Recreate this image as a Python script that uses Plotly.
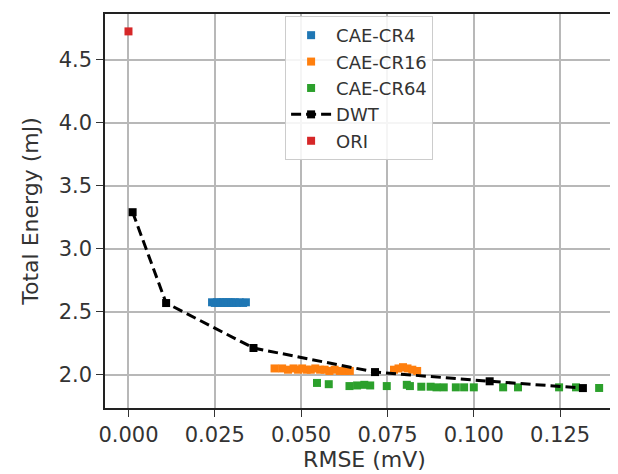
import plotly.graph_objects as go

# ---- data ----
cr4_rmse = [0.0242, 0.0250, 0.0256, 0.0261, 0.0266, 0.0270, 0.0274, 0.0278, 0.0282,
            0.0286, 0.0290, 0.0294, 0.0298, 0.0303, 0.0308, 0.0314, 0.0322, 0.0332, 0.0340]
cr4_energy = [2.575, 2.57, 2.575, 2.57, 2.575, 2.57, 2.575, 2.57, 2.575,
              2.57, 2.575, 2.57, 2.575, 2.57, 2.575, 2.57, 2.575, 2.57, 2.575]

cr16_rmse = [0.0423, 0.0445, 0.0462, 0.0478, 0.0491, 0.0503, 0.0516, 0.0528, 0.0541, 0.0555, 0.0568,
             0.0582, 0.0597, 0.0612, 0.0627, 0.0641, 0.0769, 0.0782, 0.0795, 0.0808, 0.0822, 0.0836]
cr16_energy = [2.05, 2.05, 2.04, 2.05, 2.04, 2.05, 2.04, 2.04, 2.05, 2.04, 2.04,
               2.03, 2.04, 2.03, 2.03, 2.03, 2.04, 2.05, 2.06, 2.05, 2.04, 2.03]

cr64_rmse = [0.0546, 0.0580, 0.0640, 0.0662, 0.0683, 0.0700, 0.0748, 0.0806, 0.0815, 0.0848,
             0.0875, 0.0892, 0.0913, 0.0948, 0.0972, 0.1000, 0.1085, 0.1128, 0.1247, 0.1296, 0.1363]
cr64_energy = [1.935, 1.925, 1.91, 1.915, 1.92, 1.915, 1.91, 1.92, 1.91, 1.905,
               1.905, 1.90, 1.90, 1.90, 1.90, 1.90, 1.90, 1.90, 1.90, 1.90, 1.895]

dwt_rmse = [0.0012, 0.0109, 0.0362, 0.0714, 0.1046, 0.1316]
dwt_energy = [3.29, 2.569, 2.212, 2.021, 1.948, 1.894]

ori_rmse = [0.0]
ori_energy = [4.725]

x_ticks = [0.000, 0.025, 0.050, 0.075, 0.100, 0.125]
x_ticklabels = ["0.000", "0.025", "0.050", "0.075", "0.100", "0.125"]
y_ticks = [2.0, 2.5, 3.0, 3.5, 4.0, 4.5]
y_ticklabels = ["2.0", "2.5", "3.0", "3.5", "4.0", "4.5"]

FONT = "DejaVu Sans"
TXT = "#333333"
MS = 8

fig = go.Figure()
fig.add_trace(go.Scatter(x=cr4_rmse, y=cr4_energy, mode="markers", name="CAE-CR4",
                         marker=dict(symbol="square", size=MS, color="#1f77b4")))
fig.add_trace(go.Scatter(x=cr16_rmse, y=cr16_energy, mode="markers", name="CAE-CR16",
                         marker=dict(symbol="square", size=MS, color="#ff7f0e")))
fig.add_trace(go.Scatter(x=cr64_rmse, y=cr64_energy, mode="markers", name="CAE-CR64",
                         marker=dict(symbol="square", size=MS, color="#2ca02c")))
fig.add_trace(go.Scatter(x=dwt_rmse, y=dwt_energy, mode="lines+markers", name="DWT",
                         line=dict(color="black", width=3, dash="10px,5px"),
                         marker=dict(symbol="square", size=MS, color="black")))
fig.add_trace(go.Scatter(x=ori_rmse, y=ori_energy, mode="markers", name="ORI",
                         marker=dict(symbol="square", size=MS, color="#d62728")))

axis_common = dict(showgrid=True, gridcolor="#b8b8b8", gridwidth=1.5,
                   showline=True, linecolor="#222222", linewidth=1.5, mirror=True,
                   ticks="outside", ticklen=7, tickwidth=1.3, tickcolor="#333333",
                   zeroline=False, tickfont=dict(family=FONT, size=21, color=TXT))

fig.update_xaxes(range=[-0.0068, 0.1435], tickvals=x_ticks, ticktext=x_ticklabels,
                 title=dict(text="RMSE (mV)", font=dict(family=FONT, size=22, color=TXT), standoff=3),
                 **axis_common)
fig.update_yaxes(range=[1.736, 4.863], tickvals=y_ticks, ticktext=y_ticklabels,
                 title=dict(text="Total Energy (mJ)", font=dict(family=FONT, size=22, color=TXT), standoff=14),
                 **axis_common)

fig.update_layout(
    width=618, height=474,
    margin=dict(l=97, r=0, t=6, b=74),
    plot_bgcolor="white", paper_bgcolor="white",
    font=dict(family=FONT, color=TXT),
    legend=dict(x=0.347, y=0.995, xanchor="left", yanchor="top",
                bgcolor="rgba(255,255,255,0.85)", bordercolor="#cccccc", borderwidth=1,
                font=dict(family=FONT, size=18, color=TXT), itemwidth=40, tracegroupgap=0),
)

fig.write_html("out.html")
